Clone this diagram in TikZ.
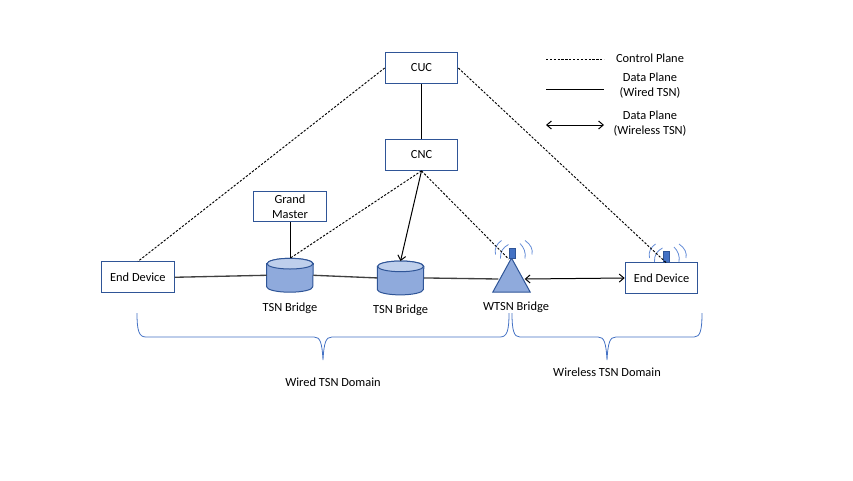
\documentclass[tikz,border=0pt]{standalone}
\usepackage{xcolor}
\usepackage{fontspec}
\setmainfont{Carlito}
\usepackage{tikz}
\usetikzlibrary{shapes.geometric, arrows.meta, positioning}
\definecolor{boxblue}{RGB}{47,85,151}
\definecolor{bodyblue}{RGB}{143,170,220}
\definecolor{capblue}{RGB}{190,207,236}
\definecolor{antblue}{RGB}{68,114,196}
\definecolor{wavblue}{RGB}{100,140,215}
\tikzset{
    netbox/.style={rectangle, draw=boxblue, fill=white, line width=0.75pt, align=center,
                   inner sep=1pt, minimum width=54.5pt, minimum height=23pt},
    bridge/.style={rectangle, inner sep=0pt, minimum width=34.5pt, minimum height=25pt},
    drumbody/.style={draw=boxblue, fill=bodyblue, line width=0.75pt},
    drumcap/.style={draw=boxblue, fill=capblue, line width=0.75pt},
    wbridge/.style={isosceles triangle, isosceles triangle apex angle=57, shape border rotate=90,
                    isosceles triangle stretches, draw=boxblue, fill=bodyblue, line width=0.75pt,
                    inner sep=0pt, minimum width=28pt, minimum height=25.5pt},
    antenna/.style={rectangle, draw=boxblue, fill=antblue, line width=0.5pt, inner sep=0pt,
                    minimum width=4.5pt, minimum height=7.8pt},
    lbl/.style={font=\fontsize{9.3pt}{11.2pt}\selectfont, align=center, inner sep=0pt},
    ctrl/.style={black, line width=0.7pt, dash pattern=on 1.7pt off 1.2pt},
    wired/.style={black, line width=0.75pt},
    wiredgrey/.style={black!75, line width=1pt},
    wireless/.style={{Straight Barb[length=3.5pt,width=6pt]}-{Straight Barb[length=3.5pt,width=6pt]}, black, line width=0.75pt},
    signal/.style={-{Straight Barb[length=3.5pt,width=6pt]}, black, line width=0.75pt},
    wave/.style={wavblue, line width=0.6pt},
    bracket/.style={antblue, line width=0.6pt},
    waves/.pic={
        \draw[wave] (-16.5,1) .. controls (-18,-5) and (-15,-10) .. (-10.5,-13);
        \draw[wave] (-11.5,5) .. controls (-12,-2) and (-9,-6) .. (-3.5,-9);
        \draw[wave] (8,-10) .. controls (12,-6) and (14,-1) .. (13,5);
        \draw[wave] (13,-13) .. controls (19,-9) and (21,-4) .. (20,1);
    },
}
% drum outline over a bridge node
\newcommand{\drum}[1]{
    \draw[drumbody] ([yshift=-4pt]#1.north west) -- ([yshift=4pt]#1.south west)
        arc[start angle=180, end angle=360, x radius=17.25pt, y radius=4pt]
        -- ([yshift=-4pt]#1.north east)
        arc[start angle=0, end angle=180, x radius=17.25pt, y radius=4pt] -- cycle;
    \draw[drumcap] ([yshift=-4pt]#1.north) ellipse[x radius=17.25pt, y radius=4pt];
}

\begin{document}
\begin{tikzpicture}[x=0.75pt, y=-0.75pt, font=\fontsize{9.3pt}{11.2pt}\selectfont]
    \useasboundingbox (0,0) rectangle (853,480);

    % control tier and the bridges
    \node[netbox] (cuc) at (421.5,68) {CUC};
    \node[netbox, below=41.5pt of cuc] (cnc) {CNC};
    \node[netbox] (master) at (290,206.5) {Grand\\Master};
    \node[bridge, below=27pt of master] (brone) {};
    \node[bridge, right=48pt of brone, yshift=-2pt] (brtwo) {};
    \node[wbridge] (wtsn) at (511.5,281) {};
    \node[netbox, left=69pt of brone, yshift=-1.5pt] (devleft) {End Device};
    \node[netbox] (devright) at (661.5,278) {End Device};
    \drum{brone}
    \drum{brtwo}

    % antennas
    \node[antenna] (antwtsn) at (512,253.5) {};
    \node[antenna] (antdev) at (666,257) {};
    \pic at (antwtsn) {waves};
    \pic at (antdev) {waves};

    % labels
    \node[lbl, below=7.5pt of brone] (lblone) {TSN Bridge};
    \node[lbl, below=7.5pt of brtwo] (lbltwo) {TSN Bridge};
    \node[lbl] (lblwtsn) at (516,307) {WTSN Bridge};
    \node[lbl] (lblwired) at (333,382) {Wired TSN Domain};
    \node[lbl] (lblwireless) at (607,372) {Wireless TSN Domain};

    % connectors
    \draw[wired] (cuc) -- (cnc);
    \draw[wired] (master) -- (brone.north);
    \draw[wiredgrey] (devleft.east) -- (brone.west);
    \draw[wiredgrey] (brone.east) -- (brtwo.west);
    \draw[wiredgrey] (brtwo.east) -- ([yshift=1.5pt]wtsn.west);
    \draw[wireless] ([yshift=1.5pt]wtsn.east) -- (devright.west);
    \draw[signal] (cnc.south) -- (brtwo.north);
    \draw[ctrl] (cuc.west) -- (devleft.north);
    \draw[ctrl] (cuc.east) -- (antdev.south);
    \draw[ctrl] (cnc.south) -- (brone.north);
    \draw[ctrl] (cnc.south) -- (antwtsn.south west);

    % domain braces
    \draw[bracket] (137,313) .. controls (137,331) and (139,337) .. (146,337) -- (314,337)
        .. controls (320,337) and (322,342) .. (323,360)
        .. controls (324,342) and (326,337) .. (332,337) -- (500,337)
        .. controls (507,337) and (509,331) .. (509,313);
    \draw[bracket] (512,313) .. controls (512,331) and (514,337) .. (520,337) -- (598,337)
        .. controls (604,337) and (606,342) .. (607,360)
        .. controls (608,342) and (610,337) .. (616,337) -- (694,337)
        .. controls (700,337) and (702,331) .. (702,313);

    % plane legend
    \coordinate (ctrla) at (546,59);
    \coordinate (ctrlb) at (604,59);
    \coordinate (wireda) at (546,89);
    \coordinate (wiredb) at (604,89);
    \coordinate (wlessa) at (546,125);
    \coordinate (wlessb) at (604,125);
    \draw[ctrl] (ctrla) -- (ctrlb);
    \draw[wired] (wireda) -- (wiredb);
    \draw[wireless] (wlessa) -- (wlessb);
    \node[lbl] (keyctrl) at (650,58) {Control Plane};
    \node[lbl] (keywired) at (650,86) {Data Plane\\(Wired TSN)};
    \node[lbl] (keywless) at (650,124) {Data Plane\\(Wireless TSN)};
\end{tikzpicture}
\end{document}
